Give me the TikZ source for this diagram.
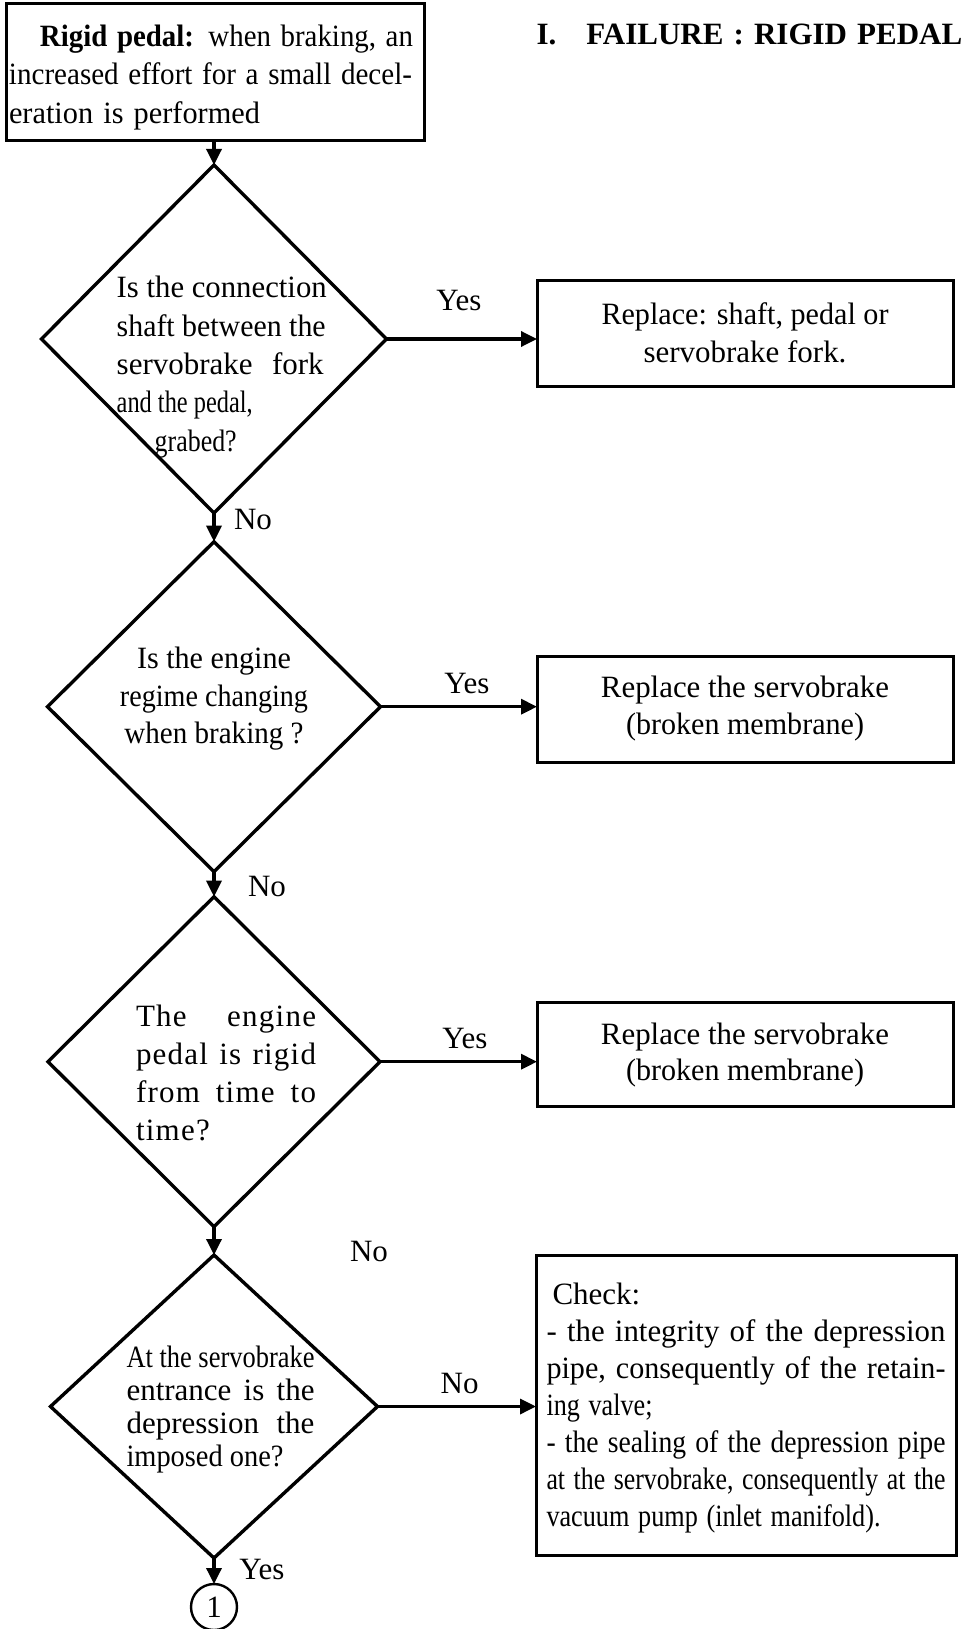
\documentclass[tikz,border=0pt]{standalone}
\usepackage{fontspec}
\usepackage{graphicx}
\setmainfont{Liberation Serif}
\usetikzlibrary{shapes.geometric,arrows.meta}

\newsavebox\fitbox
% Set a line to an exact width: stretch its spaces when it is short,
% squeeze it horizontally when it is long.
\newcommand\fitline[2]{%
  \sbox\fitbox{#2}%
  \ifdim\wd\fitbox>#1\relax
    \resizebox{#1}{\height}{\usebox\fitbox}%
  \else
    \makebox[#1][s]{#2}%
  \fi}

\begin{document}
\begin{tikzpicture}[x=1pt,y=-1pt,
  every node/.style={inner sep=0pt, outer sep=0pt},
  procbox/.style={draw, line width=3pt, align=center,
    font=\fontsize{31}{38}\selectfont},
  decision/.style={draw, diamond, line width=3.4pt},
  qtext/.style={font=\fontsize{31}{38.3}\selectfont},
  answer/.style={font=\fontsize{31}{31}\selectfont},
  flow/.style={line width=3.4pt, -{Triangle[length=16pt,width=15pt]}}]

\useasboundingbox (0,0) rectangle (967,1629);

% heading
\node[anchor=base west, font=\fontsize{31}{31}\selectfont\bfseries] (title)
  at (536.5,45) {I.\hspace{30pt}\fitline{376pt}{FAILURE : RIGID PEDAL}};

% symptom
\node[procbox, minimum width=418, minimum height=137, text width=412pt,
  align=left, font=\fontsize{31}{38.5}\selectfont] (b0) at (215,72.5)
  {\rule{0pt}{31pt}\hspace*{31pt}\fitline{373pt}{\textbf{Rigid pedal:} when braking, an}\\
   \fitline{403pt}{increased effort for a small decel-}\\
   \fitline{251pt}{eration is performed}};

% decisions
\node[decision, minimum width=345, minimum height=348] (d1) at (214,339) {};
\node[decision, minimum width=333, minimum height=330] (d2) at (214,706.7) {};
\node[decision, minimum width=332, minimum height=330] (d3) at (214,1061.7) {};
\node[decision, minimum width=327, minimum height=303] (d4) at (214,1406.5) {};

\node[qtext, align=left, anchor=west] (d1t) at (116.7,367)
  {\fitline{210pt}{Is the connection}\\
   \fitline{209pt}{shaft between the}\\
   \fitline{207pt}{servobrake fork}\\
   \fitline{136pt}{and the pedal,}\\
   \hspace*{38pt}\fitline{82pt}{grabed?}};

\node[qtext, align=center, font=\fontsize{31}{37.5}\selectfont] (d2t) at (214,699)
  {\fitline{154pt}{Is the engine}\\
   \fitline{188pt}{regime changing}\\
   \fitline{179pt}{when braking ?}};

\node[align=left, anchor=west,
  font=\fontsize{31}{38.3}\selectfont\addfontfeatures{LetterSpace=4}] (d3t) at (136,1073)
  {\fitline{180pt}{The engine}\\
   \fitline{180pt}{pedal is rigid}\\
   \fitline{180pt}{from time to}\\
   time?};

\node[align=left, anchor=west, font=\fontsize{31}{33}\selectfont] (d4t) at (126.5,1410)
  {\fitline{188pt}{At the servobrake}\\
   \fitline{188pt}{entrance is the}\\
   \fitline{188pt}{depression the}\\
   \fitline{157pt}{imposed one?}};

% actions
\node[procbox, minimum width=416, minimum height=106] (b1) at (745,333)
  {\fitline{287pt}{Replace: shaft, pedal or}\\
   \fitline{203pt}{servobrake fork.}};
\node[procbox, minimum width=416, minimum height=106,
  font=\fontsize{31}{37}\selectfont] (b2) at (745,709)
  {\fitline{288pt}{Replace the servobrake}\\
   \fitline{238pt}{(broken membrane)}};
\node[procbox, minimum width=416, minimum height=104,
  font=\fontsize{31}{36}\selectfont] (b3) at (745,1054.7)
  {\fitline{288pt}{Replace the servobrake}\\
   \fitline{238pt}{(broken membrane)}};
\node[procbox, minimum width=420, minimum height=300, text width=399pt,
  align=left, font=\fontsize{31}{37}\selectfont] (b4) at (746,1405)
  {\rule{0pt}{27pt}\hspace*{6pt}Check:\\
   \fitline{399pt}{- the integrity of the depression}\\
   \fitline{399pt}{pipe, consequently of the retain-}\\
   \fitline{106pt}{ing valve;}\\
   \fitline{399pt}{- the sealing of the depression pipe}\\
   \fitline{399pt}{at the servobrake, consequently at the}\\
   \fitline{334pt}{vacuum pump (inlet manifold).}};

% connector
\node[draw, circle, line width=2.4pt, minimum size=46,
  font=\fontsize{31}{31}\selectfont] (c1) at (214,1607) {1};

% flow lines
\draw[flow] (d1.north |- b0.south) -- (d1.north);
\draw[flow] (d1.east) -- (d1.east -| b1.west);
\draw[flow] (d1.south) -- (d2.north);
\draw[flow] (d2.east) -- (d2.east -| b2.west);
\draw[flow] (d2.south) -- (d3.north);
\draw[flow] (d3.east) -- (d3.east -| b3.west);
\draw[flow] (d3.south) -- (d4.north);
\draw[flow] (d4.east) -- (d4.east -| b4.west);
\draw[flow] (d4.south) -- (c1.north);

% answers
\node[answer] (y1) at (459,301) {Yes};
\node[answer] (n1) at (253,519) {No};
\node[answer] (y2) at (467,683) {Yes};
\node[answer] (n2) at (267,886) {No};
\node[answer] (y3) at (465,1038) {Yes};
\node[answer] (n3) at (369,1251) {No};
\node[answer] (n4) at (459.6,1383) {No};
\node[answer] (y4) at (262,1569) {Yes};
\end{tikzpicture}
\end{document}
